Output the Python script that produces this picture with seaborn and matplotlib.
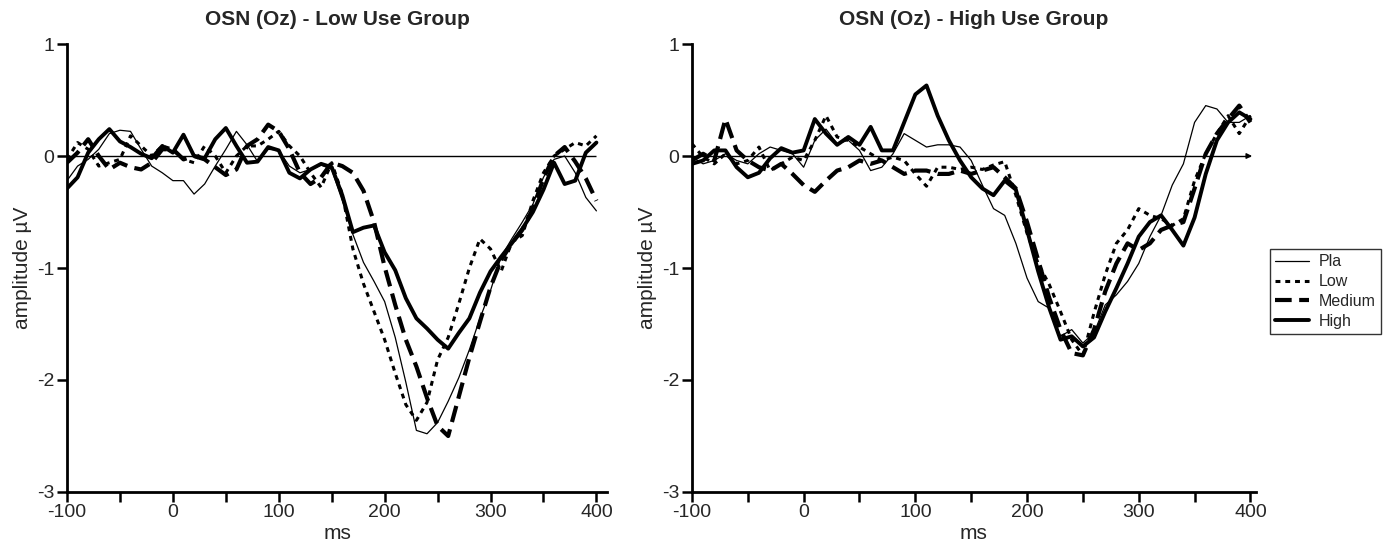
import matplotlib
matplotlib.use("Agg")
import matplotlib.pyplot as plt
import seaborn as sns
import numpy as np
import pandas as pd

# time axis (ms), values every 10 ms
ms = list(range(-100, 401, 10))

# --- Low Use Group ---
low_pla = [-0.22, -0.09, -0.03, 0.06, 0.20, 0.23, 0.22, 0.06, -0.09, -0.15,
           -0.22, -0.22, -0.34, -0.25, -0.09, 0.06, 0.22, 0.10, -0.05, 0.06,
           0.05, -0.09, -0.15, -0.12, -0.08, -0.12, -0.40, -0.70, -0.95, -1.12,
           -1.30, -1.62, -2.02, -2.45, -2.48, -2.38, -2.19, -1.98, -1.73, -1.45,
           -1.20, -0.90, -0.74, -0.59, -0.43, -0.19, -0.03, 0.00, -0.15, -0.37,
           -0.49]
low_low = [-0.03, 0.12, 0.06, -0.09, -0.06, -0.03, 0.18, 0.09, 0.00, 0.09,
           0.06, -0.03, -0.06, 0.09, 0.00, -0.15, 0.00, 0.09, 0.09, 0.15,
           0.22, 0.09, 0.00, -0.15, -0.28, -0.06, -0.34, -0.83, -1.14, -1.39,
           -1.64, -1.94, -2.22, -2.36, -2.20, -1.82, -1.62, -1.32, -1.00, -0.74,
           -0.83, -1.03, -0.77, -0.71, -0.40, -0.15, 0.00, 0.06, 0.12, 0.09,
           0.18]
low_med = [-0.06, 0.03, 0.15, 0.00, -0.12, -0.06, -0.10, -0.12, -0.06, 0.06,
           0.06, -0.03, 0.00, -0.03, -0.10, -0.17, -0.12, 0.09, 0.15, 0.28,
           0.22, 0.06, -0.15, -0.25, -0.19, -0.06, -0.09, -0.15, -0.31, -0.59,
           -0.99, -1.33, -1.64, -1.88, -2.16, -2.41, -2.50, -2.15, -1.80, -1.48,
           -1.17, -0.93, -0.78, -0.66, -0.47, -0.20, 0.00, 0.08, -0.05, -0.20,
           -0.40]
low_high = [-0.29, -0.19, 0.03, 0.15, 0.24, 0.13, 0.08, 0.02, -0.02, 0.09,
            0.03, 0.19, 0.00, -0.02, 0.15, 0.25, 0.09, -0.06, -0.05, 0.08,
            0.05, -0.15, -0.20, -0.12, -0.07, -0.10, -0.35, -0.68, -0.64, -0.62,
            -0.86, -1.02, -1.27, -1.45, -1.54, -1.64, -1.72, -1.58, -1.45, -1.22,
            -1.03, -0.90, -0.78, -0.65, -0.50, -0.30, -0.06, -0.25, -0.22, 0.03,
            0.12]

# --- High Use Group ---
high_pla = [-0.01, -0.07, -0.04, 0.02, -0.04, -0.07, 0.02, 0.08, 0.05, 0.02,
            -0.10, 0.14, 0.24, 0.11, 0.14, 0.05, -0.13, -0.10, 0.02, 0.20,
            0.14, 0.08, 0.10, 0.10, 0.08, -0.04, -0.26, -0.47, -0.53, -0.78,
            -1.09, -1.30, -1.36, -1.61, -1.55, -1.67, -1.58, -1.33, -1.24, -1.12,
            -0.96, -0.72, -0.53, -0.26, -0.07, 0.30, 0.45, 0.42, 0.30, 0.30,
            0.36]
high_low = [0.11, -0.01, -0.07, 0.02, -0.07, -0.04, 0.08, -0.13, -0.07, -0.01,
            -0.04, 0.14, 0.36, 0.17, 0.14, 0.08, 0.02, -0.04, -0.01, -0.04,
            -0.16, -0.27, -0.10, -0.10, -0.12, -0.10, -0.12, -0.08, -0.05, -0.35,
            -0.69, -0.96, -1.15, -1.39, -1.64, -1.78, -1.40, -1.06, -0.78, -0.66,
            -0.47, -0.53, -0.56, -0.62, -0.56, -0.22, 0.02, 0.20, 0.36, 0.20,
            0.36]
high_med = [-0.04, 0.02, -0.04, 0.33, 0.05, -0.04, -0.10, -0.13, -0.07, -0.16,
            -0.26, -0.32, -0.22, -0.13, -0.10, -0.04, -0.07, -0.04, -0.10, -0.16,
            -0.13, -0.13, -0.16, -0.16, -0.13, -0.16, -0.13, -0.10, -0.19, -0.29,
            -0.59, -0.93, -1.27, -1.55, -1.76, -1.78, -1.55, -1.21, -0.96, -0.78,
            -0.84, -0.78, -0.66, -0.62, -0.59, -0.29, 0.02, 0.20, 0.33, 0.45,
            0.30]
high_high = [-0.07, -0.04, 0.05, 0.05, -0.10, -0.19, -0.15, -0.02, 0.07, 0.03,
             0.05, 0.33, 0.20, 0.10, 0.17, 0.10, 0.26, 0.05, 0.05, 0.30,
             0.55, 0.63, 0.36, 0.14, -0.04, -0.19, -0.29, -0.35, -0.22, -0.30,
             -0.66, -1.03, -1.36, -1.64, -1.61, -1.70, -1.62, -1.39, -1.18, -0.96,
             -0.72, -0.59, -0.53, -0.66, -0.80, -0.55, -0.16, 0.14, 0.30, 0.39,
             0.33]

conditions = ["Pla", "Low", "Medium", "High"]
titles = ["OSN (Oz) - Low Use Group", "OSN (Oz) - High Use Group"]
panels = [[low_pla, low_low, low_med, low_high],
          [high_pla, high_low, high_med, high_high]]

styles = {
    "Pla": dict(lw=0.9, linestyle="-"),
    "Low": dict(lw=2.2, linestyle=(0, (1.6, 1.6))),
    "Medium": dict(lw=3.0, linestyle=(0, (4.0, 1.8))),
    "High": dict(lw=2.8, linestyle="-"),
}

sns.set_style("ticks")
plt.rcParams["font.family"] = ["Liberation Sans", "DejaVu Sans"]
plt.rcParams["axes.unicode_minus"] = False

fig = plt.figure(figsize=(13.9, 5.44), dpi=100)
ax1 = fig.add_axes([0.0482, 0.0956, 0.3885, 0.8235])
ax2 = fig.add_axes([0.4978, 0.0956, 0.4058, 0.8235])

for ax, title, series, xmax in zip([ax1, ax2], titles, panels, [410, 405]):
    ax.hlines(0, -100, 400, color="black", lw=1.0)
    for name, vals in zip(conditions, series):
        df = pd.DataFrame({"ms": ms, "amp": vals})
        sns.lineplot(data=df, x="ms", y="amp", ax=ax, color="black",
                     label=name, legend=False, **styles[name])
    ax.set_xlim(-100, xmax)
    ax.set_ylim(-3, 1)
    ax.set_xticks([-100, 0, 100, 200, 300, 400])
    ax.set_xticks([-50, 50, 150, 250, 350], minor=True)
    ax.set_yticks([-3, -2, -1, 0, 1])
    ax.set_xlabel("ms", fontsize=15, labelpad=2)
    ax.set_ylabel("amplitude \u00b5V", fontsize=15, labelpad=4)
    ax.set_title(title, fontsize=15, fontweight="bold", pad=14)
    ax.tick_params(axis="both", which="both", direction="out", length=7,
                   width=1.8, labelsize=14, color="black", pad=2)
    for s in ["top", "right"]:
        ax.spines[s].set_visible(False)
    for s in ["left", "bottom"]:
        ax.spines[s].set_linewidth(2.0)
        ax.spines[s].set_color("black")

# small arrowhead at end of zero line in right panel
ax2.annotate("", xy=(404, 0), xytext=(396, 0),
             arrowprops=dict(arrowstyle="-|>", color="black", lw=1.0,
                             mutation_scale=8))

handles, labels = ax2.get_legend_handles_labels()
leg = fig.legend(handles, labels, loc="upper left",
                 bbox_to_anchor=(0.9135, 0.5425), fontsize=11.5,
                 frameon=True, fancybox=False, edgecolor="black",
                 handlelength=2.1, borderpad=0.35, labelspacing=0.3,
                 handletextpad=0.6, borderaxespad=0.0)
leg.get_frame().set_linewidth(1.0)

fig.savefig("out.png", dpi=100)
